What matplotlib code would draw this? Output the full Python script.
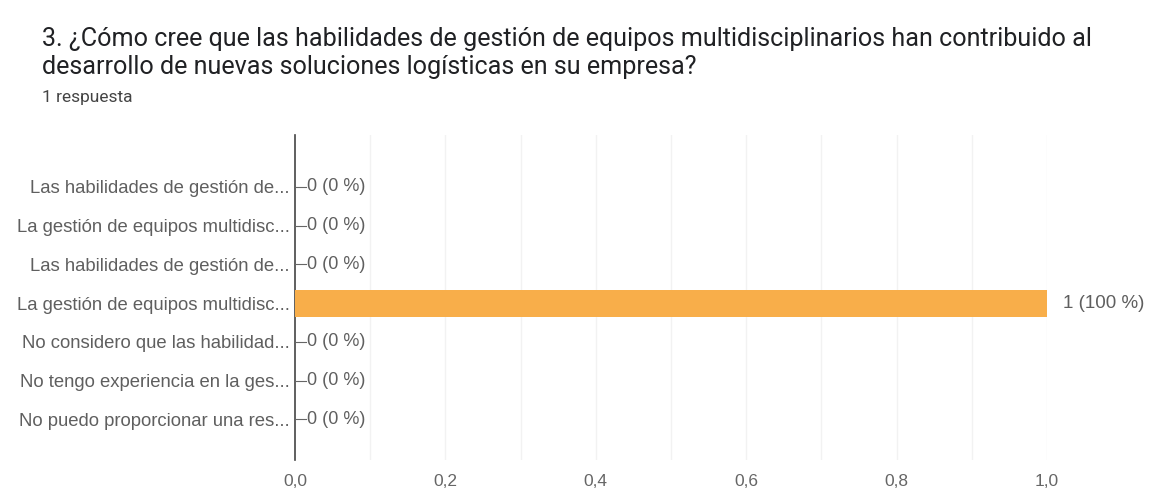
import matplotlib
matplotlib.use('Agg')
import matplotlib.pyplot as plt
import numpy as np

# Data
labels = [
    'Las habilidades de gestión de...',
    'La gestión de equipos multidisc...',
    'Las habilidades de gestión de...',
    'La gestión de equipos multidisc...',
    'No considero que las habilidad...',
    'No tengo experiencia en la ges...',
    'No puedo proporcionar una res...',
]
counts = [0, 0, 0, 1, 0, 0, 0]
percents = [0, 0, 0, 100, 0, 0, 0]
xticks = [0.0, 0.2, 0.4, 0.6, 0.8, 1.0]

title_lines = ['3. ¿Cómo cree que las habilidades de gestión de equipos multidisciplinarios han contribuido al',
               'desarrollo de nuevas soluciones logísticas en su empresa?']
subtitle = '1 respuesta'

bar_color = '#F8AE4A'
text_gray = '#5f5f5f'

fig = plt.figure(figsize=(11.56, 4.91), dpi=100)
ax = fig.add_axes([0.2552, 0.0631, 0.6505, 0.662])

y = np.arange(len(labels))
ax.barh(y, counts, height=0.7, color=bar_color, zorder=3)

ax.set_xlim(0, 1.0)
ax.set_ylim(7.05, -1.34)

# faint grid
for gx in np.arange(0.1, 1.01, 0.1):
    ax.axvline(gx, color='#f2f2f2', linewidth=1, zorder=0)

for s in ['top', 'bottom', 'right']:
    ax.spines[s].set_visible(False)
ax.spines['left'].set_color('#444444')
ax.spines['left'].set_linewidth(1.2)

ax.set_yticks(y)
ax.set_yticklabels(labels, fontsize=13.3, color=text_gray, family='Liberation Sans')
ax.tick_params(axis='y', length=0, pad=4)
ax.set_xticks(xticks)
ax.set_xticklabels([f'{t:.1f}'.replace('.', ',') for t in xticks], fontsize=12.5,
                   color='#666666', family='Liberation Sans')
ax.tick_params(axis='x', length=0, pad=10)

for yi, c, p in zip(y, counts, percents):
    if c == 0:
        ax.plot([0, 0.014], [yi, yi], color='#666666', linewidth=0.8, zorder=4, clip_on=False)
        ax.text(0.016, yi, f'{c} ({p} %)', va='center', ha='left', fontsize=13,
                color=text_gray, family='Liberation Sans')
    else:
        ax.text(c + 0.021, yi, f'{c} ({p} %)', va='center', ha='left', fontsize=13.5,
                color=text_gray, family='Liberation Sans')

fig.text(0.0363, 0.9206, title_lines[0], fontsize=18.1, color='#202124', family='Roboto',
         va='center', ha='left')
fig.text(0.0363, 0.8635, title_lines[1], fontsize=18.1, color='#202124', family='Roboto',
         va='center', ha='left')
fig.text(0.0363, 0.8024, subtitle, fontsize=12.5, color='#444444', family='Roboto',
         va='center', ha='left')

fig.savefig('out.png', dpi=100, facecolor='white')
